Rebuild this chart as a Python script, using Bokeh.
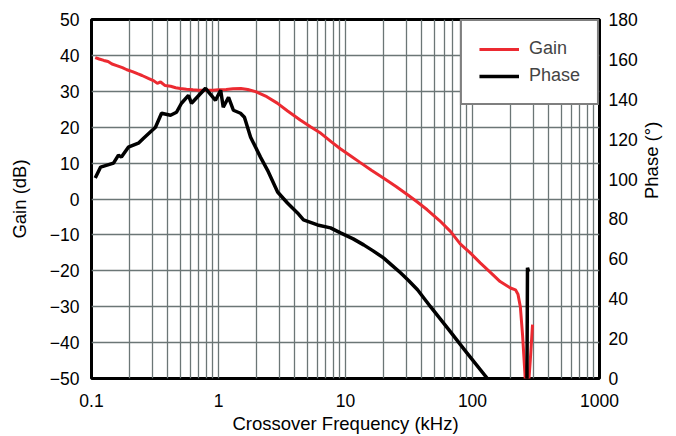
import math
from bokeh.plotting import figure
from bokeh.models import (Range1d, LinearAxis, FixedTicker, CustomJSTickFormatter,
                          Legend, LegendItem)
from bokeh.embed import file_html
from bokeh.resources import INLINE

# ---- data ----
gain_freq_khz = [0.107, 0.115, 0.125, 0.135, 0.145, 0.16, 0.175, 0.19, 0.21, 0.23,
                 0.25, 0.28, 0.31, 0.33, 0.35, 0.38, 0.42, 0.46, 0.5, 0.56, 0.63,
                 0.7, 0.8, 0.9, 1.0, 1.15, 1.3, 1.5, 1.7, 2.0, 2.4, 2.9, 3.5, 4.4,
                 5.3, 6.4, 7.7, 9.1, 11, 13, 16, 20, 25, 31, 37, 44, 55, 67, 80,
                 96, 115, 139, 165, 199, 218, 228, 238, 248, 256, 262, 276, 285, 297]
gain_db = [39.4, 39.0, 38.6, 38.3, 37.6, 37.1, 36.6, 36.0, 35.5, 34.9,
           34.4, 33.6, 32.9, 32.2, 32.6, 31.6, 31.4, 31.0, 30.8, 30.6, 30.4,
           30.3, 30.3, 30.3, 30.4, 30.5, 30.7, 30.8, 30.5, 29.8, 28.5, 26.7, 24.5, 22.0,
           20.1, 18.3, 16.0, 14.0, 12.0, 10.2, 8.0, 5.8, 3.5, 1.1, -0.9, -3.0, -6.0, -9.0, -12.5,
           -15.0, -17.8, -20.5, -23.0, -24.8, -25.3, -26.5, -30.0, -38.0, -46.0, -52.0, -52.0, -45.0, -35.0]

phase_freq_khz = [0.107, 0.118, 0.149, 0.163, 0.172, 0.195, 0.234, 0.257, 0.319, 0.356,
                  0.419, 0.467, 0.511, 0.58, 0.613, 0.79, 0.947, 1.04, 1.09, 1.2, 1.31,
                  1.49, 1.6, 1.79, 2.14, 2.43, 2.92, 3.49, 4.19, 4.67, 6.02, 7.62, 9.14,
                  11.5, 13.9, 16.5, 19.9, 23, 27.1, 31.5, 36.9, 46.7, 65, 90, 131, 150,
                  268, 271, 277]
phase_deg = [100.5, 106, 108, 112, 111, 116, 118, 120.5, 126, 133,
             132, 133.5, 138, 142, 138, 145.5, 139.5, 144.5, 136, 141, 134.5,
             133, 131, 121, 111, 104.5, 93.5, 88, 83, 79.5, 77, 75.5, 73,
             70, 67, 64, 60.5, 57, 53, 49, 44.5, 36, 24.5, 13, 0, -10,
             -10, 55.5, 53.5]

x_ticks = [0.1, 1, 10, 100, 1000]
gain_ticks = [-50, -40, -30, -20, -10, 0, 10, 20, 30, 40, 50]
phase_ticks = [0, 20, 40, 60, 80, 100, 120, 140, 160, 180]

FONT = "Liberation Sans"
RED = "#ec2a31"

p = figure(width=676, height=436, x_axis_type="log",
           x_range=Range1d(0.1, 1000), y_range=Range1d(-50, 50),
           output_backend="svg", toolbar_location=None,
           min_border_left=91, min_border_right=77, min_border_top=19, min_border_bottom=57)
p.extra_y_ranges = {"phase": Range1d(0, 180)}

p.outline_line_color = "black"
p.outline_line_width = 3
p.outline_line_alpha = 1
p.background_fill_color = "white"
p.border_fill_color = "white"

# grid
grid_ticks = [m * 10.0 ** e for e in range(-1, 3) for m in range(1, 10)] + [1000]
p.xgrid.ticker = FixedTicker(ticks=grid_ticks)
p.ygrid.ticker = FixedTicker(ticks=gain_ticks)
for g in (p.xgrid, p.ygrid):
    g.grid_line_color = "#6b7676"
    g.grid_line_width = 1.3
    g.grid_line_alpha = 1

# axes
xa = p.xaxis[0]
xa.ticker = FixedTicker(ticks=x_ticks)
xa.formatter = CustomJSTickFormatter(code="return tick < 1 ? tick.toFixed(1) : tick.toFixed(0);")
xa.axis_label = "Crossover Frequency (kHz)"
xa.major_label_standoff = 15
xa.axis_label_standoff = 3

ya = p.yaxis[0]
ya.ticker = FixedTicker(ticks=gain_ticks)
ya.formatter = CustomJSTickFormatter(code="return tick < 0 ? '\\u2212' + Math.abs(tick) : String(tick);")
ya.axis_label = "Gain (dB)"
ya.major_label_standoff = 12
ya.axis_label_standoff = 17

ra = LinearAxis(y_range_name="phase", ticker=FixedTicker(ticks=phase_ticks))
ra.axis_label = "Phase (°)"
ra.major_label_standoff = 9
ra.axis_label_standoff = 11
ra.axis_label_orientation = math.pi / 2
p.add_layout(ra, "right")

for ax in (xa, ya, ra):
    ax.axis_line_color = None
    ax.major_tick_out = 0
    ax.major_tick_in = 0
    ax.minor_tick_out = 0
    ax.minor_tick_in = 0
    ax.major_label_text_font = FONT
    ax.major_label_text_font_size = "17.5px"
    ax.major_label_text_color = "black"
    ax.axis_label_text_font = FONT
    ax.axis_label_text_font_size = "18.5px"
    ax.axis_label_text_font_style = "normal"
    ax.axis_label_text_color = "black"

# curves
rg = p.line(gain_freq_khz, gain_db, line_color=RED, line_width=3)
rp = p.line(phase_freq_khz, phase_deg, line_color="black", line_width=3.5,
            y_range_name="phase")

legend = Legend(items=[LegendItem(label="Gain", renderers=[rg]),
                       LegendItem(label="Phase", renderers=[rp])],
                location="top_right", margin=0, padding=17, spacing=6,
                glyph_width=40, glyph_height=20, label_standoff=10,
                label_text_font=FONT, label_text_font_size="18px",
                border_line_color="black", border_line_width=2,
                background_fill_color="white", background_fill_alpha=1)
p.add_layout(legend)

open("out.html", "w").write(file_html(p, INLINE))
